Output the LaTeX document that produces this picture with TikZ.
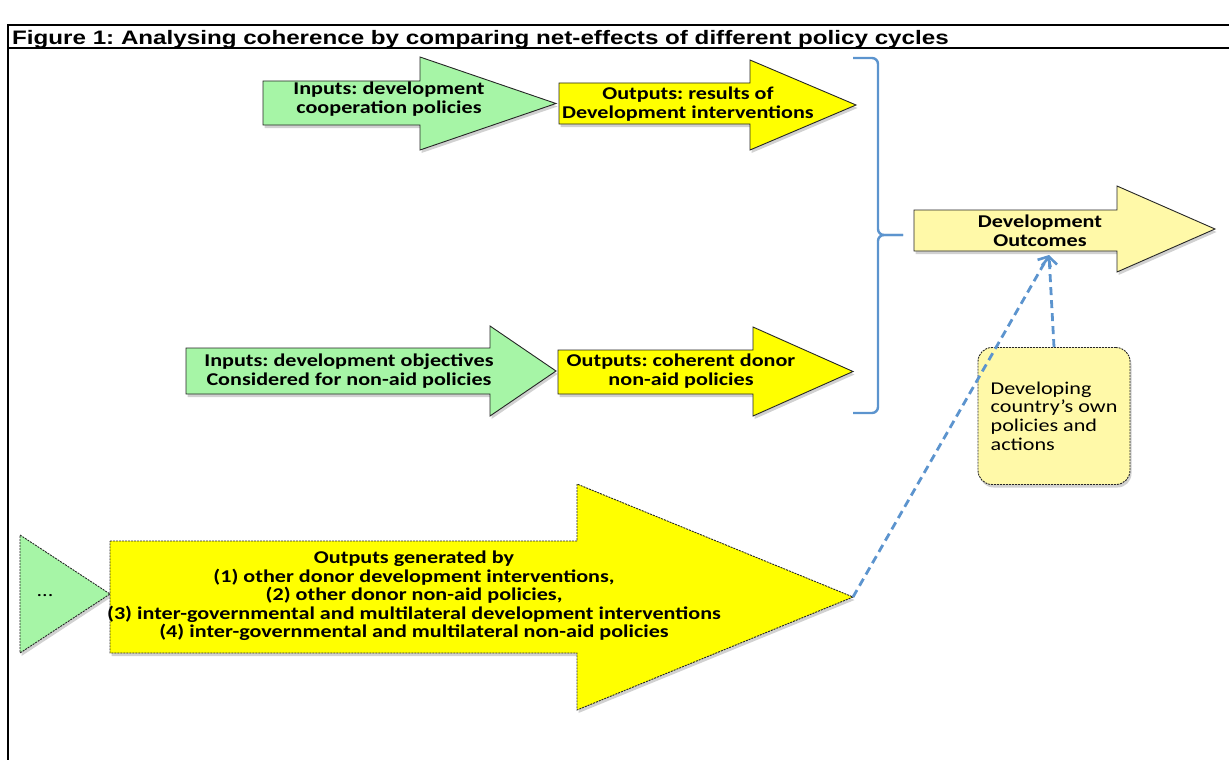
\documentclass[tikz,border=0pt]{standalone}
\usepackage{fontspec}
\setmainfont[FakeStretch=1.23]{Carlito}
\newfontfamily\titlefont[FakeStretch=1.24]{Liberation Sans}
\usetikzlibrary{positioning, calc, shadows, arrows.meta}
\frenchspacing

\definecolor{inputgreen}{RGB}{166,245,166}
\definecolor{outyellow}{RGB}{255,255,0}
\definecolor{paleyellow}{RGB}{255,249,168}
\definecolor{linkblue}{RGB}{92,148,206}

%% block arrow: [style] {x left}{x head base}{x tip}{body top}{body bottom}{head top}{head bottom}
\newcommand{\policyarrow}[8][]{%
  \draw[#1] (#2,#5) -- (#3,#5) -- (#3,#7) -- (#4,{(#7+#8)/2})
    -- (#3,#8) -- (#3,#6) -- (#2,#6) -- cycle;}

\begin{document}
\begin{tikzpicture}[
    x=1pt, y=-1pt,
    every node/.style={font=\fontsize{18}{18.6}\selectfont},
    shapebase/.style={
        draw=black!85, line width=0.9pt, line join=miter,
        drop shadow={shadow xshift=1.5pt, shadow yshift=-3pt,
                     opacity=0.3, fill=black!60}
    },
    inarrow/.style={shapebase, fill=inputgreen},
    outarrow/.style={shapebase, fill=outyellow},
    otherline/.style={dash pattern=on 2pt off 1pt},
    arrowtext/.style={align=center, inner sep=0pt,
        font=\fontsize{18}{18.6}\selectfont\bfseries},
    ownbox/.style={
        shapebase, otherline, fill=paleyellow, rounded corners=14pt,
        minimum width=152pt, minimum height=137pt,
        align=left, inner sep=0pt
    },
    bracket/.style={draw=linkblue, line width=2.4pt, rounded corners=6pt},
    linkline/.style={
        draw=linkblue, line width=2.8pt, dash pattern=on 8pt off 5pt,
        -{Straight Barb[length=8pt, width=15pt, line width=2.6pt]}
    }
]
\useasboundingbox (0,0) rectangle (1229,760);

%% ── Frame and title ─────────────────────────────────────────────────
\draw[line width=2pt] (8,760) -- (8,25) -- (1229,25);
\draw[line width=1.5pt] (8,48) -- (1229,48);
\node[anchor=base west, inner sep=0pt,
      font=\titlefont\fontsize{19.5}{22}\selectfont\bfseries]
    (title) at (12,45) {Figure 1: Analysing coherence by comparing net-effects of different policy cycles};

%% ── Development cooperation cycle ───────────────────────────────────
\policyarrow[inarrow]{263}{420}{556}{81}{125}{57}{150}
\policyarrow[outarrow]{559}{750}{856}{83}{124}{60}{150}
\node[arrowtext] (inA)  at (389,99)  {Inputs: development\\cooperation policies};
\node[arrowtext] (outA) at (688,104) {Outputs: results of\\Development interventions};

%% ── Non-aid policy cycle ────────────────────────────────────────────
\policyarrow[inarrow]{186}{490}{556}{348}{394}{326}{416}
\policyarrow[outarrow]{558}{753}{853}{350}{394}{327}{416}
\node[arrowtext] (inB)  at (349,371) {Inputs: development objectives\\Considered for non-aid policies};
\node[arrowtext] (outB) at (681,371) {Outputs: coherent donor\\non-aid policies};

%% ── Brace joining both cycles ───────────────────────────────────────
\draw[bracket] (853,58) -- (878,58) -- (878,235) -- (903,235);
\draw[bracket] (903,235) -- (878,235) -- (878,413) -- (853,413);

%% ── Outcomes ────────────────────────────────────────────────────────
\policyarrow[shapebase, fill=paleyellow]{914}{1117}{1215}{210}{251}{186}{272}
\node[arrowtext] (outcome) at (1040,231) {Development\\Outcomes};
\coordinate (meet) at (1049,255);

\node[ownbox] (own) at (1054,416) {Developing\\country’s own\\policies and\\actions};

%% ── Other donors and multilateral actors ────────────────────────────
\policyarrow[inarrow, otherline]{20}{20}{110}{535}{653}{535}{653}
\node[arrowtext, font=\fontsize{18}{18.6}\selectfont] (more) at (45,596) {...};
\policyarrow[outarrow, otherline]{110}{577}{853}{541}{653}{484}{710}
\node[arrowtext] (others) at (414,596)
    {Outputs generated by\\(1) other donor development interventions,\\(2) other donor non-aid policies,\\(3) inter-governmental and multilateral development interventions\\(4) inter-governmental and multilateral non-aid policies};
\coordinate (bigtip) at (853,597);

%% ── Links into the outcomes ─────────────────────────────────────────
\draw[linkline] (bigtip) -- (meet);
\draw[linkline] (own.north) -- (meet);

\end{tikzpicture}
\end{document}
